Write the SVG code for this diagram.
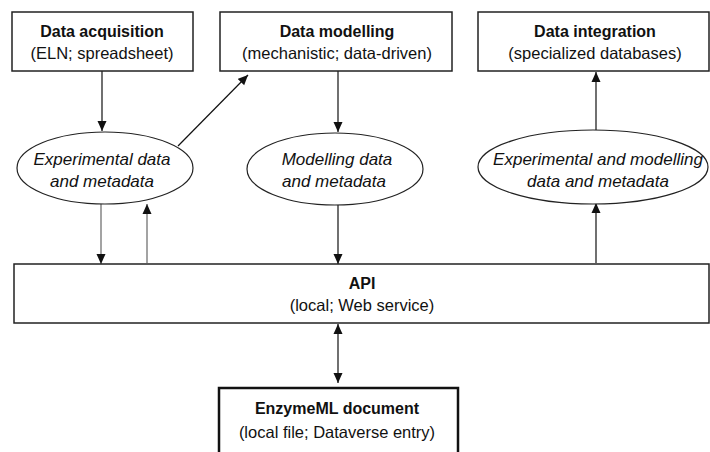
<svg xmlns="http://www.w3.org/2000/svg" width="710" height="452" viewBox="0 0 710 452">
<style>
.box{fill:#fff;stroke:#222;stroke-width:1.5}
.thick{fill:#fff;stroke:#111;stroke-width:2.5}
.ell{fill:#fff;stroke:#222;stroke-width:1.2}
.t{font-family:"Liberation Sans",Arial,sans-serif;font-size:16.5px;fill:#111;text-anchor:middle}
.b{font-weight:bold;font-size:16px}
.i{font-style:italic;font-size:17px}
.c{stroke:#111;stroke-width:1.2;fill:none}
.g{stroke:#666}
</style>
<defs>
<marker id="ah" viewBox="0 0 10 10" refX="10" refY="5" markerWidth="10" markerHeight="10" markerUnits="userSpaceOnUse" orient="auto-start-reverse">
<path d="M0,0.5 L10,5 L0,9.5 Z" fill="#111"/>
</marker>
</defs>
<rect width="710" height="452" fill="#fff"/>
<g id="connectors">
<line class="c" x1="102" y1="71" x2="102" y2="131" marker-end="url(#ah)"/>
<line class="c" x1="178" y1="146" x2="248" y2="75" marker-end="url(#ah)"/>
<line class="c" x1="338" y1="71" x2="338" y2="132" marker-end="url(#ah)"/>
<line class="c" x1="596" y1="130" x2="596" y2="72" marker-end="url(#ah)"/>
<line class="c g" x1="101" y1="204" x2="101" y2="264" marker-end="url(#ah)"/>
<line class="c g" x1="147" y1="263" x2="147" y2="204" marker-end="url(#ah)"/>
<line class="c" x1="338" y1="205" x2="338" y2="264" marker-end="url(#ah)"/>
<line class="c" x1="596" y1="263" x2="596" y2="203" marker-end="url(#ah)"/>
<line class="c" x1="338" y1="324" x2="338" y2="383" marker-start="url(#ah)" marker-end="url(#ah)"/>
</g>
<g id="acq">
<rect class="box" x="12" y="12" width="181" height="59"/>
<text class="t b" x="102" y="37">Data acquisition</text>
<text class="t" x="102" y="59">(ELN; spreadsheet)</text>
</g>
<g id="mod">
<rect class="box" x="220" y="12" width="232" height="59"/>
<text class="t b" x="337" y="37">Data modelling</text>
<text class="t" x="337" y="59">(mechanistic; data-driven)</text>
</g>
<g id="int">
<rect class="box" x="478" y="12" width="231" height="59"/>
<text class="t b" x="595" y="37">Data integration</text>
<text class="t" x="595" y="59">(specialized databases)</text>
</g>
<g id="expdata">
<ellipse class="ell" cx="105" cy="168" rx="88" ry="36"/>
<text class="t i" x="102" y="165">Experimental data</text>
<text class="t i" x="102" y="187">and metadata</text>
</g>
<g id="moddata">
<ellipse class="ell" cx="335" cy="169" rx="88" ry="36"/>
<text class="t i" x="337" y="165">Modelling data</text>
<text class="t i" x="334" y="187">and metadata</text>
</g>
<g id="bothdata">
<ellipse class="ell" cx="593" cy="167" rx="115" ry="37"/>
<text class="t i" x="598" y="165">Experimental and modelling</text>
<text class="t i" x="598" y="187">data and metadata</text>
</g>
<g id="api">
<rect class="box" x="14" y="264" width="695" height="59"/>
<text class="t b" x="362" y="289">API</text>
<text class="t" x="362" y="311">(local; Web service)</text>
</g>
<g id="enzymeml">
<rect class="thick" x="219" y="388" width="239" height="70"/>
<text class="t b" x="337" y="414">EnzymeML document</text>
<text class="t" x="337" y="438">(local file; Dataverse entry)</text>
</g>
</svg>
